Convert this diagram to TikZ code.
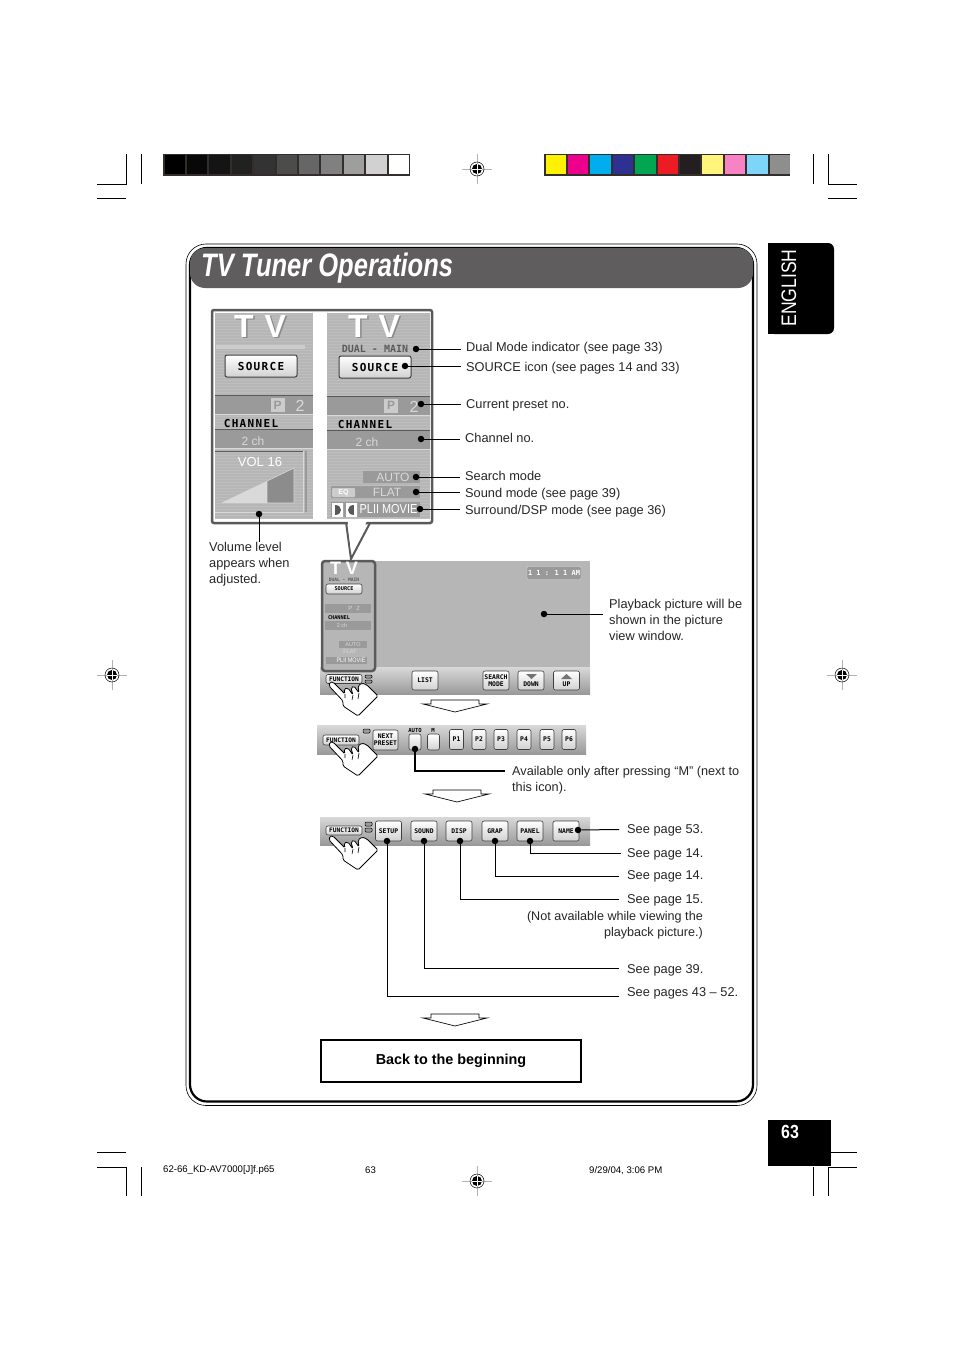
\documentclass[tikz,border=0pt]{standalone}
\usepackage{fontspec}
\setmainfont{Liberation Sans}
\newfontfamily\panelfont{DejaVu Sans Mono}
\newfontfamily\panelwide[LetterSpace=12]{DejaVu Sans Mono}
\newfontfamily\titlefont[FakeStretch=0.785]{Liberation Sans}
\newfontfamily\tabfont[FakeStretch=0.84]{Liberation Sans}
\definecolor{barkdark}{HTML}{5F5D5E}
\definecolor{panelgray}{HTML}{B6B6B6}
\definecolor{paneldark}{HTML}{9A9A9A}
\definecolor{panelline}{HTML}{5A5A5A}
\definecolor{tvgray}{HTML}{8A8A8A}
\definecolor{inkframe}{HTML}{332E2C}
\tikzset{
    hand/.pic={
        \draw[fill=white, line width=0.8pt, rounded corners=1.5pt]
            (-1,3) -- (13,18) -- (13,23) -- (28,33) -- (48,13) -- (37,2) -- (32,0) -- (28,3)
            -- (29,10) -- (24,3) -- (21,5) -- (23,12) -- (18,5) -- (14,6) -- (15,11)
            -- (3,-1) -- (0,-1) -- cycle;
        \draw[line width=0.6pt] (15,11) -- (15,15) (23,12) -- (22,17) (29,10) -- (28,16);
    },
    regmark/.pic={
        \draw[gray!60, line width=0.5pt] (-15,0) -- (15,0) (0,-15) -- (0,15);
        \draw[black, line width=0.5pt] (0,0) circle (7);
        \fill[black] (0,0) circle (5);
        \draw[white, line width=0.5pt] (-5,0) -- (5,0) (0,-5) -- (0,5);
    },
    downarrow/.pic={
        \draw[fill=white, line width=0.7pt] (-24,-6) -- (24,-6) -- (24,-2) -- (32,-2)
            -- (0,6) -- (-32,-2) -- (-24,-2) -- cycle;
    }
}
\begin{document}
\begin{tikzpicture}[
    x=1pt, y=-1pt,
    notetext/.style={anchor=west, align=left, inner xsep=5pt, inner ysep=0pt, font=\fontsize{12.8}{16}\selectfont, text=black!85},
    seetext/.style={notetext, inner xsep=8pt, text height=11pt, text depth=2pt},
    leader/.style={draw, black, line width=1pt},
    dotmark/.style={circle, fill=black, inner sep=0pt, minimum size=6.5pt},
    bargray/.style={top color=white!85!black, bottom color=black!40, draw=none},
    pushbtn/.style={draw=black!75, line width=0.6pt, rounded corners=2pt, top color=white, bottom color=black!18, inner sep=0pt, align=center, font=\panelfont\bfseries\fontsize{6.4}{7}\selectfont},
    bigbtn/.style={pushbtn, line width=1pt, minimum width=72pt, minimum height=22pt, font=\panelwide\bfseries\fontsize{11}{12}\selectfont},
    fnbtn/.style={pushbtn, minimum width=36pt, minimum height=9pt, font=\panelfont\bfseries\fontsize{6.2}{7}\selectfont},
    capstext/.style={font=\panelwide\bfseries\fontsize{11}{12}\selectfont, text=black, inner sep=0pt},
    lighttext/.style={font=\fontsize{12}{12}\selectfont, text=white!85!black, inner sep=0pt},
    tvtext/.style={font=\bfseries\fontsize{32}{32}\selectfont, inner sep=0pt}
]
    \useasboundingbox (0,0) rectangle (954,1351);

    \draw[line width=0.7pt] (97,184) -- (126.5,184) -- (126.5,154) (141,154) -- (141,184) (97,198) -- (126,198);
    \draw[line width=0.7pt] (857,184) -- (828,184) -- (828,154) (813.5,154) -- (813.5,184) (857,198) -- (828,198);
    \draw[line width=0.7pt] (97,1167) -- (126.5,1167) -- (126.5,1196) (141,1167) -- (141,1196) (97,1152) -- (126,1152);
    \draw[line width=0.7pt] (857,1167) -- (828,1167) -- (828,1196) (813.5,1167) -- (813.5,1196) (857,1152) -- (831,1152);
    \pic at (477,169) {regmark};
    \pic at (112,675) {regmark};
    \pic at (842,675) {regmark};
    \pic at (477,1181) {regmark};

    \fill[inkframe] (163,154) rectangle (410,176);
    \foreach \c [count=\i from 0] in {black,black!97,black!92,black!87,black!80,black!70,black!60,black!50,black!38,black!18,white} {
        \fill[\c] (164.5+\i*22.4,155.5) rectangle (185+\i*22.4,174.5);
    }
    \fill[inkframe] (544,154) rectangle (790,176);
    \foreach \c [count=\i from 0] in {FFF200,EC008C,00AEEF,2E3192,00A651,ED1C24,231F20,FFF57D,F783C5,7DD5F9,8F8E8E} {
        \definecolor{swatch}{HTML}{\c}
        \fill[swatch] (545.5+\i*22.4,155.5) rectangle (566+\i*22.4,174.5);
    }

    \draw[line width=0.6pt, rounded corners=20pt] (186,244) rectangle (757,1105.5);
    \draw[line width=2.2pt, rounded corners=17pt] (190,248) rectangle (753,1101.5);
    \fill[barkdark, rounded corners=15pt] (190,248) rectangle (753,288);
    \node[anchor=west, inner sep=0pt, text=white, font=\titlefont\bfseries\itshape\fontsize{32.5}{34}\selectfont] (title) at (201,268.5) {TV Tuner Operations};

    \fill[black, rounded corners=6pt] (768,243) rectangle (834,334);
    \fill[black] (768,243) rectangle (780,334);
    \node[rotate=90, inner sep=0pt, text=white, font=\tabfont\fontsize{21}{24}\selectfont] (english) at (789,288) {ENGLISH};
    \fill[black] (768,1120) rectangle (831,1166);
    \node[inner sep=0pt, text=white, font=\tabfont\bfseries\fontsize{19}{20}\selectfont] (pageno) at (790,1132) {63};

    \draw[line width=2pt, panelline, fill=white] (346,522) -- (351,559) -- (370,523);
    \draw[line width=2.5pt, panelline, rounded corners=2pt, fill=white] (212,310) rectangle (432,523);
    \fill[white] (347.5,519) -- (351,552) -- (368,519) -- cycle;

    \fill[panelgray] (215,313) rectangle (313,519);
    \fill[panelgray] (327,313) rectangle (430,519);
    \begin{scope}
        \clip (215,313) rectangle (430,519);
        \foreach \y in {314,317,...,518} {
            \draw[white, opacity=0.12, line width=0.8pt] (215,\y) -- (430,\y);
        }
    \end{scope}
    \fill[white] (313,313) rectangle (327,519);

    \fill[paneldark] (215,396) rectangle (313,414);
    \fill[paneldark] (215,430) rectangle (313,448);
    \draw[panelline, line width=0.9pt] (215,395.5) -- (313,395.5) (215,429.5) -- (313,429.5);
    \draw[white!85!black, line width=0.7pt] (215,414.5) -- (313,414.5) (215,448.5) -- (313,448.5);
    \fill[paneldark] (327,397) rectangle (430,415);
    \fill[paneldark] (327,431) rectangle (430,449);
    \draw[panelline, line width=0.9pt] (327,396.5) -- (430,396.5) (327,430.5) -- (430,430.5);
    \draw[white!85!black, line width=0.7pt] (327,415.5) -- (430,415.5) (327,449.5) -- (430,449.5);

    \node[tvtext, text=tvgray] (tvleftshade) at (261.5,327.5) {T\hspace{11pt}V};
    \node[tvtext, text=white] (tvleft) at (260,326) {T\hspace{11pt}V};
    \node[tvtext, text=tvgray] (tvrightshade) at (375.5,327.5) {T\hspace{11pt}V};
    \node[tvtext, text=white] (tvright) at (374,326) {T\hspace{11pt}V};
    \fill[white!80!black] (216,345) rectangle (305,349);

    \node[bigbtn] (sourceleft) at (261,366) {SOURCE};
    \node[bigbtn] (sourceright) at (375,367) {SOURCE};
    \node[inner sep=0pt, text=panelline, font=\panelfont\bfseries\fontsize{10}{10}\selectfont] (dualmain) at (375,349) {DUAL - MAIN};

    \node[fill=white!80!black, text=paneldark, minimum size=14pt, inner sep=0pt, font=\bfseries\fontsize{12}{12}\selectfont] (presetleft) at (277.5,405) {P};
    \node[lighttext, font=\fontsize{16}{16}\selectfont] (numleft) at (300,405.5) {2};
    \node[fill=white!80!black, text=paneldark, minimum size=14pt, inner sep=0pt, font=\bfseries\fontsize{12}{12}\selectfont] (presetright) at (391,405.5) {P};
    \node[lighttext, font=\fontsize{16}{16}\selectfont] (numright) at (414,406.5) {2};
    \node[capstext] (chanleft) at (251,423) {CHANNEL};
    \node[capstext] (chanright) at (365,424.5) {CHANNEL};
    \node[lighttext] (chleft) at (253,441) {2 ch};
    \node[lighttext] (chright) at (367,442) {2 ch};

    \draw[white!85!black, line width=0.7pt] (215,512) -- (303,512) -- (303,451);
    \draw[panelline, line width=0.9pt] (215,451.5) -- (303,451.5);
    \draw[paneldark, line width=2.5pt] (306,451) -- (306,512);
    \node[lighttext, text=white, font=\fontsize{13}{13}\selectfont] (volume) at (260,462) {VOL 16};
    \fill[white!85!black] (221,503) -- (267,481) -- (267,503) -- cycle;
    \draw[fill=black!45, draw=white!85!black, line width=0.6pt] (267,481) -- (294,468) -- (294,503) -- (267,503) -- cycle;

    \fill[paneldark] (363,471) rectangle (420,483);
    \node[lighttext] (autotxt) at (393,477) {AUTO};
    \fill[paneldark] (331,486) rectangle (420,498);
    \node[fill=white!80!black, text=white, rounded corners=1pt, minimum width=23pt, minimum height=9pt, inner sep=0pt, font=\bfseries\fontsize{7}{7}\selectfont] (eqbox) at (343.5,492.5) {EQ};
    \node[lighttext] (flattxt) at (387,492) {FLAT};
    \fill[paneldark] (331,502) rectangle (420,517);
    \fill[white] (332,503) rectangle (343,517) (346,503) rectangle (357,517);
    \fill[black!65] (335,505) .. controls (343,505) and (343,515) .. (335,515) -- cycle;
    \fill[black!65] (354,505) .. controls (346,505) and (346,515) .. (354,515) -- cycle;
    \node[lighttext, text=white, font=\tabfont\fontsize{13}{14}\selectfont] (modetxt) at (388.5,509) {PLII MOVIE};

    \fill[panelgray] (375,561) rectangle (590,667);
    \node[draw=white!85!black, fill=black!40, text=white, minimum width=54pt, minimum height=13pt, inner sep=0pt, rounded corners=1pt, font=\panelfont\bfseries\fontsize{7}{8}\selectfont] (clockbox) at (554,573) {1 1 : 1 1 AM};

    \fill[bargray] (320,667) rectangle (590,694);
    \draw[line width=2.5pt, panelline, rounded corners=3pt, fill=panelgray] (322,561) rectangle (375,671);
    \fill[paneldark] (325,604) rectangle (371,613);
    \fill[paneldark] (325,621) rectangle (371,630);
    \fill[paneldark] (339,641) rectangle (367,648);
    \fill[paneldark] (326,657) rectangle (367,664);
    \node[tvtext, text=white, font=\bfseries\fontsize{18}{18}\selectfont] (tvmini) at (344,568) {T\hspace{5pt}V};
    \node[inner sep=0pt, text=panelline, font=\panelfont\bfseries\fontsize{4.6}{5}\selectfont] (dualmini) at (344,580) {DUAL - MAIN};
    \node[pushbtn, minimum width=36pt, minimum height=10pt, font=\panelfont\bfseries\fontsize{5.2}{6}\selectfont] (sourcemini) at (344,589) {SOURCE};
    \node[lighttext, font=\fontsize{6}{6}\selectfont] (numini) at (354,608) {P\hspace{4pt}2};
    \node[capstext, font=\panelfont\bfseries\fontsize{5.2}{6}\selectfont] (chanmini) at (339,618) {CHANNEL};
    \node[lighttext, font=\fontsize{5.5}{6}\selectfont] (chmini) at (342,626) {2 ch};
    \node[lighttext, font=\fontsize{5.5}{6}\selectfont] (automini) at (353,644.5) {AUTO};
    \node[lighttext, font=\fontsize{5.5}{6}\selectfont] (flatmini) at (350,652) {FLAT};
    \node[lighttext, text=white, font=\tabfont\fontsize{6.5}{6}\selectfont] (modemini) at (351,660.5) {PLII MOVIE};

    \node[fnbtn] (fnone) at (344,679) {FUNCTION};
    \draw[line width=0.5pt, fill=black!40, rounded corners=1pt] (365,675) rectangle (372,678) (365,680) rectangle (372,683);
    \node[pushbtn, minimum width=26pt, minimum height=19pt] (listbtn) at (425,680.5) {LIST};
    \node[pushbtn, minimum width=26pt, minimum height=19pt] (searchbtn) at (496,680.5) {SEARCH\\MODE};
    \node[pushbtn, minimum width=26pt, minimum height=19pt] (downbtn) at (531,680.5) {\raisebox{6pt}{}\\DOWN};
    \node[pushbtn, minimum width=26pt, minimum height=19pt] (upbtn) at (566.5,680.5) {\raisebox{6pt}{}\\UP};
    \fill[black!55] (526,674) -- (537,674) -- (531.5,679) -- cycle;
    \fill[black!55] (561,679) -- (572,679) -- (566.5,674) -- cycle;
    \pic at (330,683) {hand};
    \pic at (455,706) {downarrow};

    \fill[bargray] (317,725) rectangle (586,754);
    \node[fnbtn, minimum height=10pt] (fntwo) at (341,740) {FUNCTION};
    \draw[line width=0.5pt, fill=black!40, rounded corners=1pt] (363,729) rectangle (370,733);
    \node[pushbtn, minimum width=25pt, minimum height=20pt] (presetbtn) at (385.5,740) {NEXT\\PRESET};
    \node[pushbtn, minimum width=12pt, minimum height=16pt] (autobtn) at (415,742) {};
    \node[pushbtn, minimum width=12pt, minimum height=16pt] (mbtn) at (433.5,742) {};
    \node[inner sep=0pt, font=\panelfont\bfseries\fontsize{5.6}{6}\selectfont] (autolabel) at (415,730) {AUTO};
    \node[inner sep=0pt, font=\panelfont\bfseries\fontsize{5.6}{6}\selectfont] (mlabel) at (433,730) {M};
    \foreach \n/\x in {1/456.5, 2/479, 3/501, 4/524, 5/547, 6/569} {
        \node[pushbtn, minimum width=14pt, minimum height=20pt] (preset\n) at (\x,739.5) {P\n};
    }
    \pic at (330,743) {hand};
    \pic at (457,796) {downarrow};

    \fill[bargray] (320,817) rectangle (590,845);
    \node[fnbtn] (fnthree) at (344,830.5) {FUNCTION};
    \draw[line width=0.5pt, fill=black!40, rounded corners=1pt] (365,822) rectangle (372,826) (365,828) rectangle (372,832);
    \foreach \s/\x/\t in {setup/388.5/SETUP, sound/424/SOUND, disp/459/DISP, grap/495/GRAP, panel/530/PANEL, name/566/NAME} {
        \node[pushbtn, minimum width=26pt, minimum height=20pt] (\s btn) at (\x,831) {\t};
    }
    \pic at (330,837) {hand};
    \pic at (455,1020) {downarrow};

    \node[dotmark] (dual) at (416,349) {};
    \node[dotmark] (source) at (405,366) {};
    \node[dotmark] (current) at (421,404) {};
    \node[dotmark] (channel) at (421,439) {};
    \node[dotmark] (search) at (416,477) {};
    \node[dotmark] (sound) at (416,492) {};
    \node[dotmark] (surround) at (420,509) {};
    \node[notetext] (dualnote) at (461,348.5) {Dual Mode indicator (see page 33)};
    \node[notetext] (sourcenote) at (461,368.5) {SOURCE icon (see pages 14 and 33)};
    \node[notetext] (currentnote) at (461,405.5) {Current preset no.};
    \node[notetext] (channelnote) at (460,438) {Channel no.};
    \node[notetext] (searchnote) at (460,476) {Search mode};
    \node[notetext] (soundnote) at (460,494.5) {Sound mode (see page 39)};
    \node[notetext] (surroundnote) at (460,511.5) {Surround/DSP mode (see page 36)};
    \foreach \a/\b in {dual/dualnote, source/sourcenote, current/currentnote, channel/channelnote, search/searchnote, sound/soundnote, surround/surroundnote} {
        \draw[leader] (\a) -- (\a -| \b.west);
    }

    \node[dotmark] (volumedot) at (259,514) {};
    \node[notetext, anchor=north west, inner xsep=0pt] (volumenote) at (209,542) {Volume level\\appears when\\adjusted.};
    \draw[leader] (volumedot) -- (volumedot |- volumenote.north);

    \node[dotmark] (playdot) at (544,614) {};
    \node[notetext, inner xsep=6pt] (playnote) at (603,620) {Playback picture will be\\shown in the picture\\view window.};
    \draw[leader, line width=0.7pt] (playdot) -- (playdot -| playnote.west);

    \node[dotmark] (autodot) at (415,749) {};
    \node[notetext, anchor=north west, inner xsep=7pt, font=\fontsize{12.7}{16}\selectfont] (autonote) at (505,766) {Available only after pressing “M” (next to\\this icon).};
    \coordinate (autoend) at (505,771);
    \draw[leader, line width=1.3pt] (autodot) |- (autoend);

    \node[dotmark] (namedot) at (578,830) {};
    \node[dotmark] (paneldot) at (530,841) {};
    \node[dotmark] (grapdot) at (495,841) {};
    \node[dotmark] (dispdot) at (460,841) {};
    \node[dotmark] (sounddot) at (424,841) {};
    \node[dotmark] (setupdot) at (387,841) {};
    \node[seetext] (namenote) at (619,829.5) {\raisebox{1pt}{See page 53.}};
    \node[seetext, inner xsep=6pt] (panelnote) at (621,853) {See page 14.};
    \node[seetext] (grapnote) at (619,876) {\raisebox{1pt}{See page 14.}};
    \node[seetext] (dispnote) at (619,899) {See page 15.};
    \node[notetext, anchor=north east, align=right, inner xsep=0pt, font=\fontsize{12.6}{16}\selectfont] (dispmore) at (703,911) {(Not available while viewing the\\playback picture.)};
    \node[seetext] (soundnote2) at (619,968.5) {See page 39.};
    \node[seetext] (setupnote) at (619,992) {See pages 43 – 52.};
    \draw[leader] (namedot) -- (namenote.west);
    \draw[leader, line width=0.7pt] (paneldot) |- (panelnote.west);
    \draw[leader] (grapdot) |- (grapnote.west);
    \draw[leader, line width=0.7pt] (dispdot) |- (dispnote.west);
    \draw[leader] (sounddot) |- (soundnote2.west);
    \draw[leader, line width=0.7pt] (setupdot) |- ([yshift=-4pt]setupnote.west);

    \node[draw, line width=1.5pt, minimum width=260pt, minimum height=42pt, inner sep=0pt, font=\bfseries\fontsize{14.4}{16}\selectfont] (backbox) at (451,1061) {Back to the beginning};

    \node[anchor=west, inner sep=0pt, font=\fontsize{9.6}{10}\selectfont] (footfile) at (163,1170.5) {62-66\_KD-AV7000[J]f.p65};
    \node[anchor=west, inner sep=0pt, font=\fontsize{9.6}{10}\selectfont] (footpage) at (365,1170.5) {63};
    \node[anchor=west, inner sep=0pt, font=\fontsize{9.6}{10}\selectfont] (footdate) at (589,1170.5) {9/29/04, 3:06 PM};
\end{tikzpicture}
\end{document}
